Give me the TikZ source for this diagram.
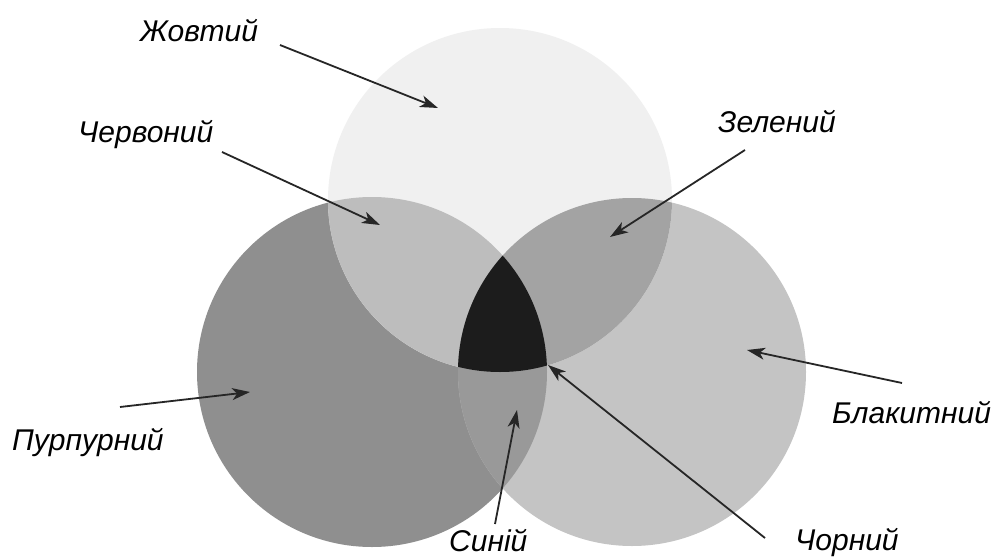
\documentclass[tikz,border=0pt]{standalone}
\usepackage{fontspec}
\setmainfont{Liberation Sans}
\usetikzlibrary{arrows.meta}
\definecolor{cyellow}{gray}{0.94}
\definecolor{cpurple}{gray}{0.56}
\definecolor{ccyan}{gray}{0.77}
\definecolor{cred}{gray}{0.74}
\definecolor{cgreen}{gray}{0.64}
\definecolor{cblue}{gray}{0.60}
\definecolor{cblack}{gray}{0.11}
\tikzset{
  lbl/.style={anchor=base west, inner sep=0pt, font=\fontsize{30}{36}\selectfont\itshape},
  arr/.style={line width=1.8pt, draw=black!85, -{Stealth[length=18pt,width=12pt,inset=5pt]}}
}
\begin{document}
\begin{tikzpicture}[x=1pt,y=-1pt]
\useasboundingbox (0,0) rectangle (997,560);
\fill[white] (0,0) rectangle (997,560);
% circles
\coordinate (cT) at (500,200);
\coordinate (cL) at (372,372);
\coordinate (cR) at (632,372);
\def\rT{172}\def\rL{175}\def\rR{174}
\fill[cpurple] (cL) circle[radius=\rL];
\fill[ccyan] (cR) circle[radius=\rR];
\fill[cyellow] (cT) circle[radius=\rT];
\begin{scope}
  \clip (cL) circle[radius=\rL];
  \fill[cred] (cT) circle[radius=\rT];
  \fill[cblue] (cR) circle[radius=\rR];
\end{scope}
\begin{scope}
  \clip (cR) circle[radius=\rR];
  \fill[cgreen] (cT) circle[radius=\rT];
\end{scope}
\begin{scope}
  \clip (cL) circle[radius=\rL];
  \clip (cR) circle[radius=\rR];
  \fill[cblack] (cT) circle[radius=\rT];
\end{scope}
% labels
\node[lbl] (ly) at (140,41) {Жовтий};
\node[lbl] (lr) at (78,142) {Червоний};
\node[lbl] (lg) at (718,132) {Зелений};
\node[lbl] (lc) at (832,423) {Блакитний};
\node[lbl] (lk) at (795,550) {Чорний};
\node[lbl] (lb) at (449,551) {Синій};
\node[lbl] (lp) at (12,450) {Пурпурний};
% arrow ends
\coordinate (ys) at (280,45);  \coordinate (yt) at (438,108);
\coordinate (rs) at (222,152); \coordinate (rt) at (380,225);
\coordinate (gs) at (745,150); \coordinate (gt) at (610,237);
\coordinate (cs) at (902,383); \coordinate (ct) at (747,350);
\coordinate (ks) at (765,538); \coordinate (kt) at (548,365);
\coordinate (bs) at (495,524); \coordinate (bt) at (517,410);
\coordinate (ps) at (120,407); \coordinate (pt) at (250,392);
\draw[arr] (ys) -- (yt);
\draw[arr] (rs) -- (rt);
\draw[arr] (gs) -- (gt);
\draw[arr] (cs) -- (ct);
\draw[arr] (ks) -- (kt);
\draw[arr] (bs) -- (bt);
\draw[arr] (ps) -- (pt);
\end{tikzpicture}
\end{document}
